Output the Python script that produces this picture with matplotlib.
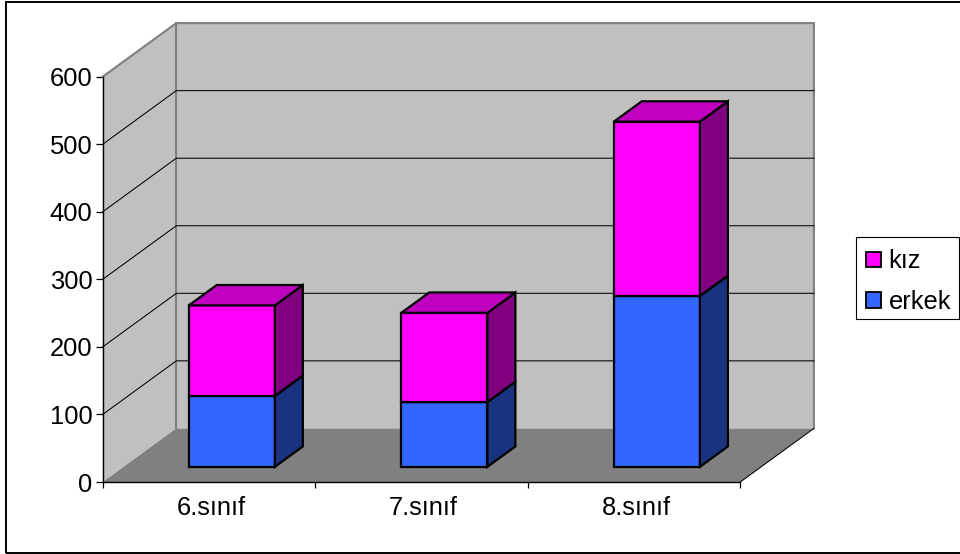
import matplotlib
matplotlib.use("Agg")
import matplotlib.pyplot as plt
from matplotlib.patches import Patch, Polygon, Rectangle

plt.rcParams["font.family"] = ["Liberation Sans", "DejaVu Sans"]

# Data
categories = ["6.sınıf", "7.sınıf", "8.sınıf"]
erkek = [105, 96, 253]
kiz = [134, 132, 258]
y_ticks = [0, 100, 200, 300, 400, 500, 600]

# Colours: (front, side, top)
ERKEK_COLORS = ("#3366FF", "#1A3380", "#264DBF")
KIZ_COLORS = ("#FF00FF", "#800080", "#BF00BF")
WALL = "#C0C0C0"
FLOOR = "#808080"

# Oblique depth of the box, in data units
DEPTH_X = 73.6 / 212.5
DEPTH_Y = 53.6 / 405.3 * 600

# Bars sit part way into the floor
BAR_X0 = 0.307
BAR_W = 0.405
BAR_D0 = 0.283
BAR_D1 = 0.663

FONT_SIZE = 18.4

W, H = 960, 554
fig = plt.figure(figsize=(W / 100, H / 100), dpi=100)
# Outer frame, its right side runs off the canvas
fig.add_artist(Rectangle((6.3 / W, 1.2 / H), (W + 10) / W, (H - 3.2) / H,
                         transform=fig.transFigure, fill=False,
                         edgecolor="black", linewidth=1.4))

# Axes cover the front plane of the box, the rest is offset from it
ax = fig.add_axes([102.7 / W, 1 - 482 / H, 637.6 / W, 405.3 / H])
ax.set_xlim(0, 3)
ax.set_ylim(0, 600)
ax.patch.set_visible(False)


def proj(x, y, d):
    return x + d * DEPTH_X, y + d * DEPTH_Y


def poly(points, face, edge="none", lw=0.0, z=1):
    ax.add_patch(Polygon(points, closed=True, facecolor=face, edgecolor=edge,
                         linewidth=lw, zorder=z, clip_on=False, joinstyle="miter"))


# Walls and floor
poly([proj(0, 0, 0), proj(0, 0, 1), proj(0, 600, 1), proj(0, 600, 0)], WALL, z=1)
poly([proj(0, 0, 1), proj(3, 0, 1), proj(3, 600, 1), proj(0, 600, 1)], WALL, z=1)
poly([proj(0, 0, 0), proj(3, 0, 0), proj(3, 0, 1), proj(0, 0, 1)], FLOOR, z=1)

# Grey outline of the walls
for pts in ([proj(0, 600, 0), proj(0, 600, 1), proj(3, 600, 1), proj(3, 0, 1)],
            [proj(0, 600, 1), proj(0, 0, 1)]):
    ax.plot(*zip(*pts), color=FLOOR, lw=1.5, clip_on=False, zorder=2,
            solid_joinstyle="miter")

# Gridlines run along the side wall and across the back wall
for v in y_ticks[1:-1]:
    pts = [proj(0, v, 0), proj(0, v, 1), proj(3, v, 1)]
    ax.plot(*zip(*pts), color="black", lw=0.75, clip_on=False, zorder=3)

# Right edge of the floor
pts = [proj(3, 0, 0), proj(3, 0, 1)]
ax.plot(*zip(*pts), color="black", lw=0.75, clip_on=False, zorder=3)


def draw_block(x0, bottom, height, colors):
    x1 = x0 + BAR_W
    top = bottom + height
    edge = dict(edge="black", lw=1.6, z=5)
    poly([proj(x0, bottom, BAR_D0), proj(x1, bottom, BAR_D0),
          proj(x1, top, BAR_D0), proj(x0, top, BAR_D0)], colors[0], **edge)
    poly([proj(x1, bottom, BAR_D0), proj(x1, bottom, BAR_D1),
          proj(x1, top, BAR_D1), proj(x1, top, BAR_D0)], colors[1], **edge)
    poly([proj(x0, top, BAR_D0), proj(x1, top, BAR_D0),
          proj(x1, top, BAR_D1), proj(x0, top, BAR_D1)], colors[2], **edge)


for i in range(len(categories)):
    draw_block(i + BAR_X0, 0, erkek[i], ERKEK_COLORS)
    draw_block(i + BAR_X0, erkek[i], kiz[i], KIZ_COLORS)

# Axes
for side in ("top", "right"):
    ax.spines[side].set_visible(False)
for side in ("left", "bottom"):
    ax.spines[side].set_linewidth(1.0)
    ax.spines[side].set_zorder(4)
ax.set_yticks(y_ticks)
ax.tick_params(axis="y", labelsize=FONT_SIZE, length=4.8, width=0.9, pad=2.6)
ax.set_xticks([0, 1, 2, 3])
ax.set_xticklabels([])
ax.tick_params(axis="x", which="major", length=4.5, width=0.9)
ax.set_xticks([0.51, 1.51, 2.51], minor=True)
ax.set_xticklabels(categories, minor=True)
ax.tick_params(axis="x", which="minor", length=0, labelsize=FONT_SIZE, pad=10.4)

# Legend, with its box drawn separately since the entries sit low in it
fig.add_artist(Rectangle((856 / W, 1 - 318.7 / H), 102.7 / W, 81.4 / H,
                         transform=fig.transFigure, facecolor="white",
                         edgecolor="black", linewidth=0.8))
handles = [Patch(facecolor=KIZ_COLORS[0], edgecolor="black", linewidth=1.3),
           Patch(facecolor=ERKEK_COLORS[0], edgecolor="black", linewidth=1.3)]
fig.legend(handles, ["kız", "erkek"], loc="upper left",
           bbox_to_anchor=(866 / W, 1 - 249.5 / H), fontsize=FONT_SIZE,
           frameon=False, borderaxespad=0, borderpad=0, handlelength=0.58,
           handleheight=0.58, handletextpad=0.31, labelspacing=0.64)

fig.savefig("out.png", dpi=100)
